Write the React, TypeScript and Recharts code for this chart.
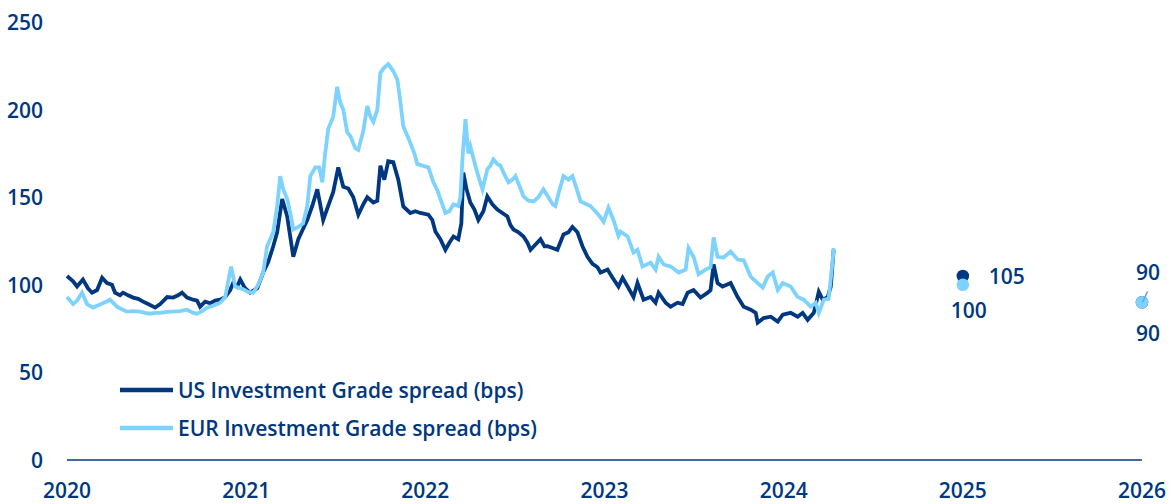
import React from 'react';
import { ComposedChart, Line, Scatter, XAxis, YAxis, Legend } from 'recharts';

const NAVY = '#003781';
const LIGHT = '#7dd3fd';
const FONT = '"Open Sans", sans-serif';

const xTicks = [2020, 2021, 2022, 2023, 2024, 2025, 2026];
const yTicks = [0, 50, 100, 150, 200, 250];

const usLabel = 'US Investment Grade spread (bps)';
const eurLabel = 'EUR Investment Grade spread (bps)';

const usDates = [
  2020.0, 2020.034, 2020.056, 2020.089, 2020.117, 2020.14, 2020.168, 2020.196, 2020.223, 2020.251,
  2020.268, 2020.296, 2020.313, 2020.341, 2020.369, 2020.397, 2020.425, 2020.453, 2020.492, 2020.52,
  2020.559, 2020.592, 2020.62, 2020.642, 2020.67, 2020.704, 2020.726, 2020.743, 2020.771, 2020.799,
  2020.827, 2020.855, 2020.883, 2020.911, 2020.927, 2020.95, 2020.967, 2020.994,
  2021.022, 2021.062, 2021.095, 2021.123, 2021.151, 2021.173, 2021.201, 2021.229, 2021.263, 2021.291,
  2021.318, 2021.341, 2021.369, 2021.397, 2021.43, 2021.458, 2021.486, 2021.514, 2021.542, 2021.57,
  2021.598, 2021.626, 2021.654, 2021.676, 2021.71, 2021.732, 2021.749, 2021.771, 2021.793, 2021.821,
  2021.849, 2021.877, 2021.916, 2021.944, 2021.972,
  2022.017, 2022.039, 2022.056, 2022.084, 2022.112, 2022.134, 2022.157, 2022.184, 2022.201, 2022.212,
  2022.229, 2022.251, 2022.274, 2022.296, 2022.324, 2022.346, 2022.374, 2022.402, 2022.43, 2022.458,
  2022.475, 2022.492, 2022.52, 2022.548, 2022.57, 2022.587, 2022.615, 2022.643, 2022.665, 2022.682,
  2022.71, 2022.737, 2022.771, 2022.799, 2022.821, 2022.849, 2022.877, 2022.905, 2022.933, 2022.961,
  2022.978,
  2023.017, 2023.045, 2023.078, 2023.101, 2023.129, 2023.162, 2023.184, 2023.218, 2023.257, 2023.285,
  2023.302, 2023.341, 2023.369, 2023.408, 2023.436, 2023.464, 2023.497, 2023.536, 2023.576, 2023.592,
  2023.609, 2023.631, 2023.659, 2023.704, 2023.743, 2023.777, 2023.816, 2023.844, 2023.855, 2023.888,
  2023.928, 2023.967, 2023.995,
  2024.039, 2024.078, 2024.106, 2024.134, 2024.168, 2024.196, 2024.218, 2024.246, 2024.263, 2024.279,
];
const usValues = [
  105, 102, 99, 103, 98, 95.5, 97, 104, 101, 100,
  95.5, 94, 95.5, 94, 92.7, 92, 90.4, 89, 87, 89,
  93, 92.7, 94, 95.5, 92.7, 91.5, 91, 87.5, 90.4, 89.5,
  91, 91.5, 93, 97, 101, 99, 103, 98,
  95.5, 98, 107, 113, 122, 130, 149, 139, 116, 126,
  132, 137, 145, 154.5, 137, 145, 153, 167, 156, 155,
  150, 140, 146, 150, 147, 148, 168, 160, 170.5, 170,
  160, 144.7, 141, 142, 141,
  140, 137, 130.4, 126, 120, 124, 127.6, 126, 135, 164,
  155, 147, 143, 137, 142, 150.5, 146, 143, 141, 139,
  134, 131.6, 130, 127.6, 124, 120, 123, 126, 122, 122,
  121, 120, 128.7, 130, 133, 130, 122, 116, 112, 110,
  107,
  108.7, 104, 99, 104, 99, 93, 101, 91.5, 93, 89.8,
  95.5, 89.8, 87.5, 89.8, 89, 95.5, 97, 92.7, 95.5, 97,
  111.6, 101, 99, 101, 93, 87.5, 85.8, 84, 78.4, 81,
  81.8, 79, 83,
  84, 81.8, 84, 80, 84, 96, 91.5, 93, 99, 120,
];

const eurDates = [
  2020.0, 2020.034, 2020.056, 2020.084, 2020.112, 2020.145, 2020.184, 2020.212, 2020.24, 2020.279,
  2020.307, 2020.335, 2020.369, 2020.408, 2020.436, 2020.464, 2020.492, 2020.52, 2020.559, 2020.592,
  2020.631, 2020.67, 2020.704, 2020.726, 2020.754, 2020.782, 2020.816, 2020.855, 2020.883, 2020.894,
  2020.916, 2020.939, 2020.967, 2020.983,
  2021.011, 2021.039, 2021.067, 2021.095, 2021.117, 2021.151, 2021.173, 2021.19, 2021.207, 2021.229,
  2021.246, 2021.263, 2021.291, 2021.318, 2021.341, 2021.358, 2021.386, 2021.408, 2021.425, 2021.441,
  2021.458, 2021.486, 2021.508, 2021.525, 2021.542, 2021.564, 2021.581, 2021.609, 2021.626, 2021.654,
  2021.676, 2021.693, 2021.71, 2021.732, 2021.749, 2021.771, 2021.793, 2021.821, 2021.844, 2021.86,
  2021.877, 2021.9, 2021.916, 2021.939, 2021.955, 2021.983,
  2022.017, 2022.045, 2022.067, 2022.084, 2022.112, 2022.134, 2022.157, 2022.184, 2022.196, 2022.207,
  2022.224, 2022.24, 2022.251, 2022.279, 2022.296, 2022.319, 2022.346, 2022.363, 2022.38, 2022.402,
  2022.419, 2022.441, 2022.464, 2022.486, 2022.503, 2022.531, 2022.548, 2022.576, 2022.604, 2022.631,
  2022.659, 2022.687, 2022.71, 2022.726, 2022.743, 2022.771, 2022.799, 2022.821, 2022.844, 2022.866,
  2022.9, 2022.922, 2022.966, 2022.995,
  2023.022, 2023.05, 2023.078, 2023.089, 2023.129, 2023.162, 2023.184, 2023.212, 2023.257, 2023.285,
  2023.302, 2023.33, 2023.369, 2023.414, 2023.453, 2023.469, 2023.497, 2023.525, 2023.564, 2023.592,
  2023.609, 2023.631, 2023.665, 2023.704, 2023.743, 2023.777, 2023.816, 2023.855, 2023.883, 2023.911,
  2023.939, 2023.967, 2023.995,
  2024.039, 2024.078, 2024.112, 2024.151, 2024.179, 2024.196, 2024.224, 2024.251, 2024.274, 2024.279,
];
const eurValues = [
  93, 89, 91, 95.5, 89, 87, 88.7, 90, 91.5, 87.5,
  86, 84.7, 85, 84.7, 84, 83.5, 84, 84, 84.5, 84.7,
  85, 85.8, 84, 83.5, 85, 87, 88, 89.8, 93, 99,
  110.4, 99, 98, 97.5,
  96, 95.5, 100, 107, 122, 130, 145, 162, 154.5, 149,
  141, 131.6, 133, 135, 145, 162, 167, 167, 158.5, 175,
  189, 196, 213, 204, 200, 187, 185, 178, 177, 188,
  202, 196, 193, 200, 221, 224, 226, 222, 217, 205,
  190.5, 185, 181, 175, 169, 168,
  167, 158.5, 154, 149, 141, 142, 146, 145, 150, 171.6,
  194.5, 175, 179, 168, 162, 154.5, 166, 168, 171.6, 169,
  168, 163, 158.5, 160, 162, 155, 150.5, 148, 147.6, 150,
  154.5, 150, 146, 145, 152, 162, 160, 162, 155, 147.6,
  146, 145, 140, 136,
  144, 137, 128, 130.4, 127.6, 118.4, 120, 110.4, 112.7, 108.7,
  116, 111.6, 110.4, 107, 108.7, 121, 116, 106, 108.7, 110,
  127, 116, 115.6, 119, 114.4, 114, 104.7, 101, 98.4, 104.7,
  107, 97, 101,
  99, 93, 91.5, 87.5, 89.8, 84, 91.5, 92, 114.4, 121,
];

const outlookYears = [2025, 2026];
const usOutlook = [105, 90];
const eurOutlook = [100, 90];

const usData = usDates.map((d, i) => ({ x: d, v: usValues[i] }));
const eurData = eurDates.map((d, i) => ({ x: d, v: eurValues[i] }));
const usOutData = outlookYears.map((d, i) => ({ x: d, v: usOutlook[i] }));
const eurOutData = outlookYears.map((d, i) => ({ x: d, v: eurOutlook[i] }));

const textStyle = { fontFamily: FONT, fontWeight: 600, fill: NAVY };

const XTick = (props: any) => {
  const { x, y, payload } = props;
  return (
    <text x={x} y={y + 30} textAnchor="middle" dominantBaseline="central" fontSize={21} style={textStyle}>
      {payload.value}
    </text>
  );
};

const YTick = (props: any) => {
  const { x, y, payload } = props;
  return (
    <text x={x - 24} y={y} textAnchor="end" dominantBaseline="central" fontSize={21} style={textStyle}>
      {payload.value}
    </text>
  );
};

const UsDot = (props: any) => {
  const { cx, cy, index, payload } = props;
  return (
    <g>
      <circle cx={cx} cy={cy} r={6.3} fill={NAVY} />
      {index === 0 ? (
        <text x={cx + 26} y={cy} textAnchor="start" dominantBaseline="central" fontSize={21} style={textStyle}>
          {payload.v}
        </text>
      ) : (
        <text x={cx + 6} y={cy - 30} textAnchor="middle" dominantBaseline="central" fontSize={21} style={textStyle}>
          {payload.v}
        </text>
      )}
    </g>
  );
};

const EurDot = (props: any) => {
  const { cx, cy, index, payload } = props;
  return (
    <g>
      <circle cx={cx} cy={cy} r={6.3} fill={LIGHT} />
      {index === 1 && (
        <line x1={cx + 0.5} y1={cy} x2={cx + 5.5} y2={cy - 11} stroke="#6fa3f2" strokeWidth={1.5} />
      )}
      <text
        x={cx + 6}
        y={index === 0 ? cy + 25 : cy + 31}
        textAnchor="middle"
        dominantBaseline="central"
        fontSize={21}
        style={textStyle}
      >
        {payload.v}
      </text>
    </g>
  );
};

const LegendContent = () => (
  <div style={{ fontFamily: FONT, fontWeight: 600, fontSize: 21, color: NAVY }}>
    {[
      { label: usLabel, color: NAVY },
      { label: eurLabel, color: LIGHT },
    ].map((it) => (
      <div key={it.label} style={{ display: 'flex', alignItems: 'center', height: 38, whiteSpace: 'nowrap' }}>
        <svg width={58} height={10} style={{ display: 'block' }}>
          <line x1={0} y1={5} x2={53} y2={5} stroke={it.color} strokeWidth={4.5} />
        </svg>
        <span>{it.label}</span>
      </div>
    ))}
  </div>
);

export default function App() {
  return (
    <div style={{ position: 'absolute', left: 0, top: 0, width: 1171, height: 504, background: '#fff' }}>
      <ComposedChart width={1171} height={504} margin={{ top: 22, right: 29, bottom: 4, left: 7 }}>
        <XAxis
          dataKey="x"
          type="number"
          domain={[2020, 2026]}
          ticks={xTicks}
          tickLine={false}
          tickSize={0}
          tickMargin={0}
          axisLine={{ stroke: NAVY, strokeWidth: 1.5 }}
          tick={<XTick />}
          height={40}
          interval={0}
        />
        <YAxis
          type="number"
          domain={[0, 250]}
          ticks={yTicks}
          axisLine={false}
          tickLine={false}
          tickSize={0}
          tickMargin={0}
          width={60}
          tick={<YTick />}
          interval={0}
        />
        <Legend
          layout="vertical"
          align="center"
          verticalAlign="middle"
          content={<LegendContent />}
          wrapperStyle={{ left: 120, top: 371, width: 'auto', height: 'auto' }}
        />
        <Line
          data={usData}
          dataKey="v"
          name={usLabel}
          type="linear"
          stroke={NAVY}
          strokeWidth={3.8}
          dot={false}
          activeDot={false}
          isAnimationActive={false}
        />
        <Line
          data={eurData}
          dataKey="v"
          name={eurLabel}
          type="linear"
          stroke={LIGHT}
          strokeWidth={3.8}
          dot={false}
          activeDot={false}
          isAnimationActive={false}
        />
        <Scatter data={usOutData} dataKey="v" fill={NAVY} shape={<UsDot />} isAnimationActive={false} legendType="none" />
        <Scatter data={eurOutData} dataKey="v" fill={LIGHT} shape={<EurDot />} isAnimationActive={false} legendType="none" />
      </ComposedChart>
    </div>
  );
}
